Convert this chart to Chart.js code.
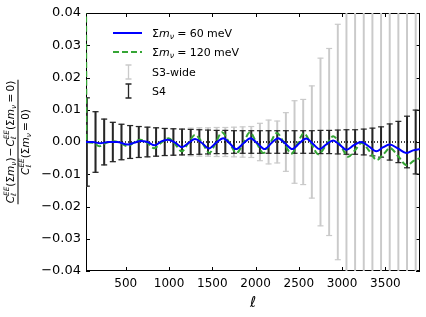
<!DOCTYPE html>
<html><head><meta charset="utf-8">
<script src="https://cdn.jsdelivr.net/npm/chart.js@4/dist/chart.umd.min.js"></script>
<style>html,body{margin:0;padding:0;background:#fff;}</style>
</head><body>
<canvas id="c" width="426" height="317"></canvas>
<script>
// ---- data ----
const binEll = [50,150,250,350,450,550,650,750,850,950,1050,1150,1250,1350,1450,1550,1650,1750,1850,1950,2050,2150,2250,2350,2450,2550,2650,2750,2850,2950,3050,3150,3250,3350,3450,3550,3650,3750,3850];
const s4Err = [0.0137,0.0094,0.0071,0.0061,0.0055,0.0051,0.0048,0.0046,0.0044,0.0042,
  0.0041,0.0040,0.0039,0.0038,0.0037,0.0036,0.0036,0.0035,0.0035,0.0035,
  0.0035,0.0035,0.0035,0.0035,0.0035,0.0035,0.0035,0.0036,0.0036,0.0037,
  0.0038,0.0038,0.0040,0.0043,0.0047,0.0056,0.0064,0.0080,0.0099];
const s3Err = [0.0137,0.0094,0.0071,0.0061,0.0055,0.0051,0.0048,0.0046,0.0044,0.0042,
  0.0041,0.0040,0.0043,0.0044,0.0044,0.0045,0.0045,0.0046,0.0047,0.0048,
  0.0058,0.0068,0.0065,0.0091,0.0128,0.0132,0.0174,0.0260,0.0290,0.0365,
  0.050,0.055,0.060,0.070,0.080,0.090,0.100,0.120,0.140];
const ell60 = [40,120,200,300,400,520,600,670,750,835,910,985,1070,1150,1230,1300,1380,1460,1545,1625,1700,1775,1860,1940,2020,2105,2180,2260,2340,2425,2505,2585,2660,2740,2820,2895,2970,3050,3135,3220,3310,3395,3470,3550,3645,3740,3820,3900];
const diff60 = [0.0000,0.0000,-0.0004,0.0000,0.0000,-0.0008,-0.0002,0.0003,0.0000,-0.0010,0.0002,0.0007,-0.0002,-0.0016,-0.0002,0.0009,-0.0003,-0.0020,-0.0002,0.0012,-0.0004,-0.0022,-0.0004,0.0012,-0.0004,-0.0022,-0.0004,0.0012,-0.0004,-0.0022,-0.0004,0.0011,-0.0005,-0.0022,-0.0007,0.0005,-0.0008,-0.0024,-0.0010,0.0000,-0.0014,-0.0029,-0.0017,-0.0008,-0.0020,-0.0034,-0.0026,-0.0022];
const ell120 = [40,46,120,195,280,365,440,517,595,670,750,826,910,995,1070,1146,1225,1300,1385,1465,1540,1610,1695,1780,1860,1935,2010,2090,2170,2245,2330,2415,2485,2555,2640,2725,2810,2898,2985,3071,3150,3226,3315,3400,3480,3553,3650,3746,3830,3900];
const diff120 = [0.050,0.0000,-0.0002,-0.0013,-0.0002,0.0002,-0.0003,-0.0013,-0.0002,0.0007,-0.0003,-0.0019,-0.0002,0.0012,-0.0006,-0.0029,-0.0002,0.0022,-0.0003,-0.0034,-0.0002,0.0030,-0.0002,-0.0034,-0.0002,0.0030,-0.0002,-0.0034,-0.0003,0.0028,-0.0004,-0.0036,-0.0005,0.0027,-0.0004,-0.0038,-0.0012,0.0018,-0.0012,-0.0046,-0.0025,-0.0003,-0.0028,-0.0056,-0.0037,-0.0019,-0.0045,-0.0072,-0.0058,-0.0050];
const xTicks = [500,1000,1500,2000,2500,3000,3500];
const yTicks = [-0.04,-0.03,-0.02,-0.01,0.00,0.01,0.02,0.03,0.04];
const xRange = [40, 3900];
const yRange = [-0.04, 0.04];
const legendLabels = ['Σm_ν = 60 meV', 'Σm_ν = 120 meV', 'S3-wide', 'S4'];

// ---- styles ----
const FAM = '"DejaVu Sans", sans-serif';
const C_BLUE = '#0000ff', C_GREEN = '#35a535', C_S4 = '#262626', C_S3 = '#cacaca';

function fontStr(size, it){ return (it ? 'italic ' : '') + size + 'px ' + FAM; }
function drawRich(ctx, x, y, segs, base, draw){
  let cx = x;
  for (const s of segs){
    if (s.sp !== undefined){ cx += s.sp * base; continue; }
    const parts = s.stack ? s.stack : [s];
    let w = 0;
    for (const p of parts){
      const sz = base * (p.sc || 1);
      ctx.font = fontStr(sz, p.it);
      if (draw) ctx.fillText(p.t, cx, y + (p.dy || 0) * base);
      w = Math.max(w, ctx.measureText(p.t).width);
    }
    cx += w;
  }
  return cx - x;
}
const CEE = [{t:'C',it:true},{stack:[{t:'EE',it:true,sc:0.7,dy:-0.45},{t:'ℓ',it:true,sc:0.7,dy:0.25}]}];
const SUMM = [{t:'Σ'},{t:'m',it:true},{t:'ν',it:true,sc:0.7,dy:0.22}];
const EQ0 = [{sp:0.22},{t:'='},{sp:0.22},{t:'0'},{t:')'}];
const numer = [...CEE,{t:'('},...SUMM,{t:')'},{sp:0.1},{t:'−'},{sp:0.1},...CEE,{t:'('},...SUMM,...EQ0];
const denom = [...CEE,{t:'('},...SUMM,...EQ0];
function legendSegs(val){ return [...SUMM,{sp:0.3},{t:'='},{sp:0.3},{t:val},{sp:0.3},{t:'meV'}]; }

const decor = {
  id: 'decor',
  beforeDatasetsDraw(chart){
    const {ctx, chartArea:a} = chart;
    ctx.save();
    ctx.strokeStyle = '#000'; ctx.lineWidth = 1;
    ctx.strokeRect(a.left + 0.5, a.top + 0.5, a.right - a.left - 1, a.bottom - a.top - 1);
    const xs = chart.scales.x, ys = chart.scales.y;
    ctx.beginPath();
    for (const v of xTicks){
      const px = Math.round(xs.getPixelForValue(v)) + 0.5;
      ctx.moveTo(px, a.bottom); ctx.lineTo(px, a.bottom - 4);
      ctx.moveTo(px, a.top); ctx.lineTo(px, a.top + 4);
    }
    for (const v of yTicks){
      const py = Math.round(ys.getPixelForValue(v)) + 0.5;
      ctx.moveTo(a.left, py); ctx.lineTo(a.left + 4, py);
      ctx.moveTo(a.right, py); ctx.lineTo(a.right - 4, py);
    }
    ctx.stroke();
    ctx.restore();
  },
  afterDraw(chart){
    const {ctx, chartArea:a} = chart;
    ctx.save();
    ctx.fillStyle = '#000';
    ctx.textBaseline = 'alphabetic';
    // x title
    ctx.font = fontStr(15, true);
    ctx.textAlign = 'center';
    ctx.fillText('ℓ', (a.left + a.right) / 2, 307);
    ctx.textAlign = 'left';
    // y title (rotated fraction)
    const base = 10.5;
    const wn = drawRich(ctx, 0, 0, numer, base, false);
    const wd = drawRich(ctx, 0, 0, denom, base, false);
    ctx.save();
    ctx.translate(18, (a.top + a.bottom) / 2);
    ctx.rotate(-Math.PI / 2);
    drawRich(ctx, -wn / 2, -4.5, numer, base, true);
    drawRich(ctx, -wd / 2, 10.5, denom, base, true);
    ctx.fillRect(-wn / 2 - 1, -0.5, wn + 2, 1);
    ctx.restore();
    // legend
    const lx0 = 113, lx1 = 142, tx = 152, lb = 11;
    const rows = [33, 52, 72, 91];
    ctx.lineWidth = 2;
    ctx.strokeStyle = C_BLUE; ctx.setLineDash([]);
    ctx.beginPath(); ctx.moveTo(lx0, rows[0]); ctx.lineTo(lx1, rows[0]); ctx.stroke();
    ctx.strokeStyle = C_GREEN; ctx.setLineDash([6, 3]);
    ctx.beginPath(); ctx.moveTo(lx0, rows[1]); ctx.lineTo(lx1, rows[1]); ctx.stroke();
    ctx.setLineDash([]);
    const mid = Math.round((lx0 + lx1) / 2) + 0.5;
    [[C_S3, rows[2]], [C_S4, rows[3]]].forEach(([c, y]) => {
      ctx.strokeStyle = c; ctx.lineWidth = 1.3;
      ctx.beginPath();
      ctx.moveTo(mid, y - 7); ctx.lineTo(mid, y + 7);
      ctx.moveTo(mid - 3, y - 7); ctx.lineTo(mid + 3, y - 7);
      ctx.moveTo(mid - 3, y + 7); ctx.lineTo(mid + 3, y + 7);
      ctx.stroke();
    });
    ctx.fillStyle = '#000';
    drawRich(ctx, tx, rows[0] + 4, legendSegs('60'), lb, true);
    drawRich(ctx, tx, rows[1] + 4, legendSegs('120'), lb, true);
    ctx.font = fontStr(lb, false);
    ctx.fillText(legendLabels[2], tx, rows[2] + 4);
    ctx.fillText(legendLabels[3], tx, rows[3] + 4);
    ctx.restore();
  }
};

const pts = (xs, ys) => xs.map((x, i) => ({x, y: ys[i]}));
const errBars = (err) => binEll.map((x, i) => ({x, y: [-err[i], err[i]]}));
const caps = (err) => binEll.flatMap((x, i) => [{x, y: err[i]}, {x, y: -err[i]}]);

new Chart(document.getElementById('c'), {
  type: 'bar',
  data: {
    datasets: [
      {type:'line', label:legendLabels[0], data: pts(ell60, diff60), borderColor:C_BLUE, borderWidth:2, pointRadius:0, cubicInterpolationMode:'monotone', order:0},
      {type:'line', label:legendLabels[1], data: pts(ell120, diff120), borderColor:C_GREEN, borderWidth:2, borderDash:[6,3], pointRadius:0, cubicInterpolationMode:'monotone', order:1},
      {type:'line', label:'zero', data: pts(xRange, [0, 0]), borderColor:'#000', borderWidth:1.3, borderDash:[1,2], pointRadius:0, order:2},
      {type:'bar', label:legendLabels[3], data: errBars(s4Err), backgroundColor:C_S4, barThickness:1.3, grouped:false, order:3},
      {type:'line', label:'S4 caps', data: caps(s4Err), showLine:false, pointStyle:'line', pointRadius:3, borderColor:C_S4, borderWidth:1.2, order:3},
      {type:'bar', label:legendLabels[2], data: errBars(s3Err), backgroundColor:C_S3, barThickness:1.3, grouped:false, order:5},
      {type:'line', label:'S3 caps', data: caps(s3Err), showLine:false, pointStyle:'line', pointRadius:3, borderColor:C_S3, borderWidth:1.2, order:5}
    ]
  },
  options: {
    responsive:false, animation:false, devicePixelRatio:1, events:[],
    layout:{padding:{left:0, top:13, right:6, bottom:0}},
    plugins:{legend:{display:false}, tooltip:{enabled:false}},
    scales:{
      x:{type:'linear', min:xRange[0], max:xRange[1], offset:false,
         grid:{display:false, drawTicks:false}, border:{display:false},
         afterBuildTicks:(s)=>{ s.ticks = xTicks.map(v=>({value:v})); },
         afterFit:(s)=>{ s.height = 46; },
         ticks:{color:'#000', font:{family:'DejaVu Sans', size:12}, padding:6, maxRotation:0, autoSkip:false,
                callback:(v)=>String(v)}},
      y:{type:'linear', min:yRange[0], max:yRange[1],
         grid:{display:false, drawTicks:false}, border:{display:false},
         afterBuildTicks:(s)=>{ s.ticks = yTicks.map(v=>({value:v})); },
         afterFit:(s)=>{ s.width = 86; },
         ticks:{color:'#000', font:{family:'DejaVu Sans', size:13}, padding:5, autoSkip:false,
                callback:(v)=>{ const t = Math.abs(v).toFixed(2); return v < -1e-9 ? '−' + t : t; }}}
    }
  },
  plugins:[decor]
});
</script>
</body></html>
